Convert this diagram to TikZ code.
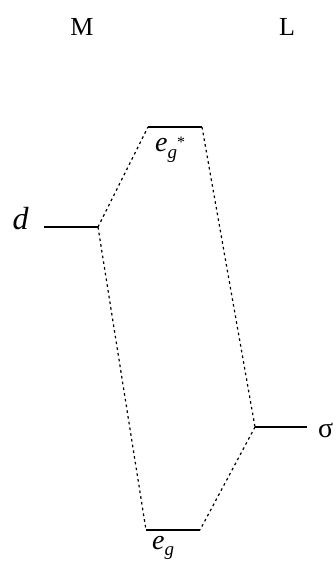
\documentclass[tikz,border=0pt]{standalone}
\usepackage{fontspec}
\setmainfont{Liberation Serif}
\usetikzlibrary{positioning}
\tikzset{level/.style={black, line width=1.2pt},
  corr/.style={black, line width=1.2pt, dash pattern=on 2.6pt off 3.2pt},
  lbl/.style={font=\fontsize{26}{30}\selectfont, inner sep=0pt},
  elbl/.style={lbl, font=\fontsize{28}{32}\selectfont}}
\newcommand{\sub}[1]{\raisebox{-0.5ex}{\fontsize{19}{21}\selectfont\textit{#1}}}

\begin{document}
\begin{tikzpicture}[x=1pt,y=1pt]
\useasboundingbox (0,0) rectangle (336,561);
\node[lbl] (M) at (82,534) {M};
\node[lbl] (L) at (287,534) {L};
% energy levels
\coordinate (dL) at (44,334); \coordinate (dR) at (98,334);
\coordinate (sL) at (255,134); \coordinate (sR) at (307,134);
\coordinate (atL) at (148,434); \coordinate (atR) at (202,434);
\coordinate (bL) at (146,31); \coordinate (bR) at (200,31);
\draw[level] (dL) -- (dR);
\draw[level] (sL) -- (sR);
\draw[level] (atL) -- (atR);
\draw[level] (bL) -- (bR);
\node[lbl, font=\fontsize{32}{36}\selectfont, anchor=base east] (d) at (29,331) {\textit{d}};
\node[lbl, font=\fontsize{28}{32}\selectfont, anchor=west] (sig) at (318,131) {σ};
\node[elbl, anchor=base west] (eas) at (155,409) {\textit{e}\sub{g}\raisebox{0.35ex}{\fontsize{16}{18}\selectfont*}};
\node[elbl, anchor=base west] (eb) at (152,12) {\textit{e}\sub{g}};
% correlation lines
\draw[corr] (dR) -- (atL);
\draw[corr] (dR) -- (bL);
\draw[corr] (atR) -- (sL);
\draw[corr] (sL) -- (bR);
\end{tikzpicture}
\end{document}
